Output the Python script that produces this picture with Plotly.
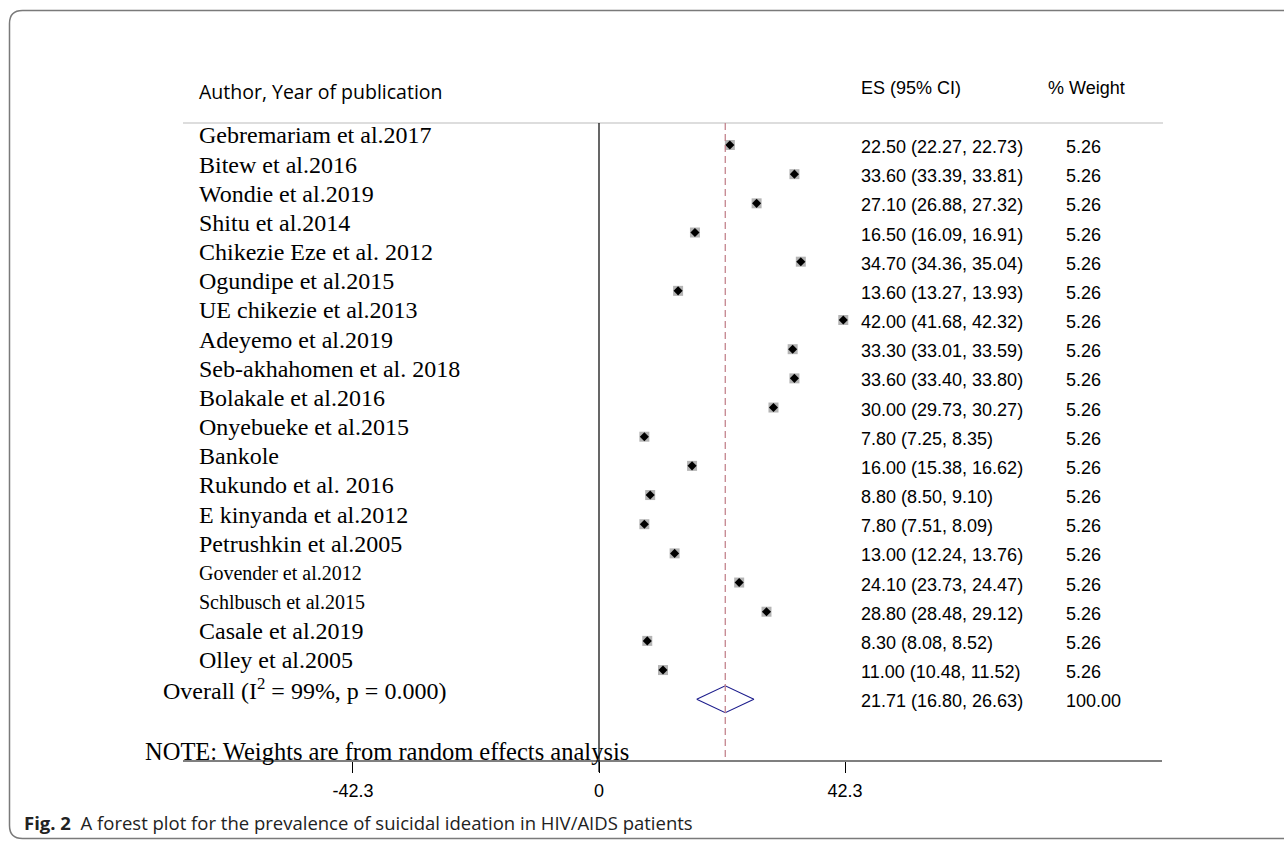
import plotly.graph_objects as go

studies = ["Gebremariam et al.2017", "Bitew et al.2016", "Wondie et al.2019", "Shitu et al.2014",
           "Chikezie Eze et al. 2012", "Ogundipe et al.2015", "UE chikezie et al.2013", "Adeyemo et al.2019",
           "Seb-akhahomen et al. 2018", "Bolakale et al.2016", "Onyebueke et al.2015", "Bankole",
           "Rukundo et al. 2016", "E kinyanda et al.2012", "Petrushkin et al.2005", "Govender et al.2012",
           "Schlbusch et al.2015", "Casale et al.2019", "Olley et al.2005"]
es = [22.50, 33.60, 27.10, 16.50, 34.70, 13.60, 42.00, 33.30, 33.60, 30.00, 7.80, 16.00, 8.80, 7.80,
      13.00, 24.10, 28.80, 8.30, 11.00]
lo = [22.27, 33.39, 26.88, 16.09, 34.36, 13.27, 41.68, 33.01, 33.40, 29.73, 7.25, 15.38, 8.50, 7.51,
      12.24, 23.73, 28.48, 8.08, 10.48]
hi = [22.73, 33.81, 27.32, 16.91, 35.04, 13.93, 42.32, 33.59, 33.80, 30.27, 8.35, 16.62, 9.10, 8.09,
      13.76, 24.47, 29.12, 8.52, 11.52]
weights = [5.26, 5.26, 5.26, 5.26, 5.26, 5.26, 5.26, 5.26, 5.26, 5.26, 5.26, 5.26, 5.26, 5.26,
           5.26, 5.26, 5.26, 5.26, 5.26]
overall_label = "Overall (I<sup>2</sup> = 99%, p = 0.000)"
overall_es = 21.71
overall_lo = 16.80
overall_hi = 26.63
overall_w = 100.00
tick_vals = [-42.3, 0, 42.3]
tick_text = ["-42.3", "0", "42.3"]

W, H = 1284, 841
# pixel geometry helpers (layout only)
X0PX = 599.0
PXU = 5.816
ROW0 = 145.0
ROWH = 29.17

def dx(p):
    return (p - X0PX) / PXU

def dy(p):
    return (p - ROW0) / ROWH

def px(x):
    return x / W

def py(y):
    return 1 - y / H

n = len(studies)
rows = list(range(n))
ov_row = n

fig = go.Figure()

# overall diamond
fig.add_trace(go.Scatter(
    x=[overall_lo, overall_es, overall_hi, overall_es, overall_lo],
    y=[ov_row, ov_row - 0.46, ov_row, ov_row + 0.46, ov_row],
    mode="lines", line=dict(color="#1c1c8c", width=1.1), hoverinfo="skip", showlegend=False))

# study boxes
fig.add_trace(go.Scatter(x=es, y=rows, mode="markers",
                         marker=dict(symbol="square", size=10, color="#b4b4b4", line=dict(width=0)),
                         showlegend=False, hoverinfo="skip"))
fig.add_trace(go.Scatter(x=es, y=rows, mode="markers",
                         marker=dict(symbol="diamond", size=7, color="black", line=dict(width=0)),
                         showlegend=False, hoverinfo="skip"))

shapes = []
# top header separator
shapes.append(dict(type="line", xref="x", yref="y", x0=dx(183), x1=dx(1163), y0=dy(123), y1=dy(123),
                   line=dict(color="#d2d2d2", width=1.5)))
# x axis line
shapes.append(dict(type="line", xref="x", yref="y", x0=dx(183), x1=dx(1162), y0=dy(761), y1=dy(761),
                   line=dict(color="black", width=1.2)))
# null line at 0
shapes.append(dict(type="line", xref="x", yref="y", x0=0, x1=0, y0=dy(123), y1=dy(772),
                   line=dict(color="black", width=1.2)))
# overall dashed line
shapes.append(dict(type="line", xref="x", yref="y", x0=overall_es, x1=overall_es, y0=dy(123), y1=dy(761),
                   line=dict(color="#c4848e", width=1.3, dash="7px,4px")))
# outer rounded frame
r = 13
L, T, B, R = 9.5, 10.5, 838.5, 1300
path = (f"M {px(L)},{py(T + r)} Q {px(L)},{py(T)} {px(L + r)},{py(T)} L {px(R)},{py(T)} "
        f"M {px(L)},{py(T + r)} L {px(L)},{py(B - r)} Q {px(L)},{py(B)} {px(L + r)},{py(B)} L {px(R)},{py(B)}")
shapes.append(dict(type="path", xref="paper", yref="paper", path=path,
                   line=dict(color="#7a7a7a", width=1.5)))

ann = []
serif = "Liberation Serif, Times New Roman, serif"
sans = "Liberation Sans, Arial, sans-serif"
for i, s in enumerate(studies):
    size = 20 if s.startswith(("Govender", "Schlbusch")) else 24
    ann.append(dict(x=px(197), y=i - 0.33, xref="paper", yref="y", text=s, showarrow=False,
                    xanchor="left", yanchor="middle", font=dict(family=serif, size=size, color="black")))
    ann.append(dict(x=px(859), y=i + 0.07, xref="paper", yref="y",
                    text=f"{es[i]:.2f} ({lo[i]:.2f}, {hi[i]:.2f})", showarrow=False,
                    xanchor="left", yanchor="middle", font=dict(family=sans, size=18, color="black")))
    ann.append(dict(x=px(1064), y=i + 0.07, xref="paper", yref="y", text=f"{weights[i]:.2f}",
                    showarrow=False, xanchor="left", yanchor="middle",
                    font=dict(family=sans, size=18, color="black")))
ann.append(dict(x=px(161), y=ov_row - 0.36, xref="paper", yref="y", text=overall_label, showarrow=False,
                xanchor="left", yanchor="middle", font=dict(family=serif, size=24, color="black")))
ann.append(dict(x=px(859), y=ov_row + 0.07, xref="paper", yref="y",
                text=f"{overall_es:.2f} ({overall_lo:.2f}, {overall_hi:.2f})", showarrow=False,
                xanchor="left", yanchor="middle", font=dict(family=sans, size=18, color="black")))
ann.append(dict(x=px(1064), y=ov_row + 0.07, xref="paper", yref="y", text=f"{overall_w:.2f}",
                showarrow=False, xanchor="left", yanchor="middle", font=dict(family=sans, size=18, color="black")))
# headers
ann.append(dict(x=px(197), y=py(91), xref="paper", yref="paper", text="Author, Year of publication",
                showarrow=False, xanchor="left", yanchor="middle",
                font=dict(family="Open Sans, sans-serif", size=19.5, color="black")))
ann.append(dict(x=px(859), y=py(88), xref="paper", yref="paper", text="ES (95% CI)",
                showarrow=False, xanchor="left", yanchor="middle", font=dict(family=sans, size=18, color="black")))
ann.append(dict(x=px(1046), y=py(88), xref="paper", yref="paper", text="% Weight",
                showarrow=False, xanchor="left", yanchor="middle", font=dict(family=sans, size=18, color="black")))
# note
ann.append(dict(x=px(143), y=py(751), xref="paper", yref="paper",
                text="NOTE: Weights are from random effects analysis",
                showarrow=False, xanchor="left", yanchor="middle", font=dict(family=serif, size=24.5, color="black")))
# caption
ann.append(dict(x=px(22), y=py(822), xref="paper", yref="paper",
                text="<b>Fig. 2</b>  A forest plot for the prevalence of suicidal ideation in HIV/AIDS patients",
                showarrow=False, xanchor="left", yanchor="middle",
                font=dict(family="Open Sans, sans-serif", size=18.5, color="#222222")))

fig.update_layout(
    width=W, height=H, margin=dict(l=0, r=0, t=0, b=0),
    paper_bgcolor="white", plot_bgcolor="white",
    shapes=shapes, annotations=ann, showlegend=False,
    xaxis=dict(range=[dx(0), dx(W)], domain=[0, 1], anchor="free", position=py(761),
               tickvals=tick_vals, ticktext=tick_text, ticks="outside", ticklen=11,
               tickcolor="black", tickwidth=1, showgrid=False, zeroline=False, showline=False,
               tickfont=dict(family=sans, size=18, color="black"), ticklabelstandoff=2),
    yaxis=dict(range=[dy(H), dy(0)], domain=[0, 1], visible=False, showgrid=False, zeroline=False),
)

fig.write_html("out.html")
